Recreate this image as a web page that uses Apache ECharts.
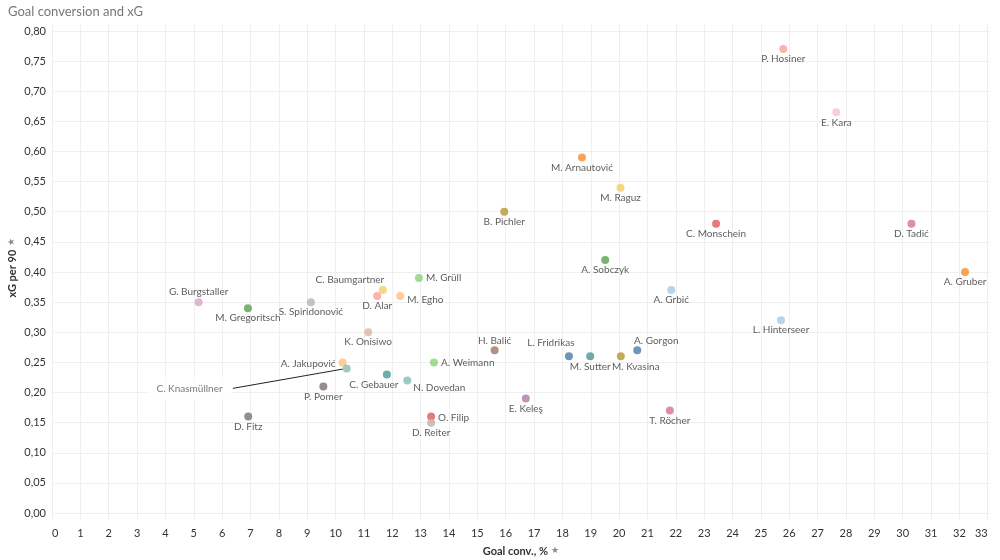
<!DOCTYPE html>
<html>
<head>
<meta charset="utf-8">
<script src="https://cdn.jsdelivr.net/npm/echarts@6/dist/echarts.min.js"></script>
<style>html,body{margin:0;padding:0;background:#fff}#c{width:1000px;height:560px}</style>
</head>
<body>
<div id="c"></div>
<script>
// ---- data ----
const players = ['P. Hosiner','E. Kara','C. Monschein','D. Tadić','A. Gruber','A. Grbić','L. Hinterseer','M. Arnautović','M. Raguz','B. Pichler','A. Sobczyk','M. Grüll','C. Baumgartner','D. Alar','M. Egho','S. Spiridonović','K. Onisiwo','G. Burgstaller','M. Gregoritsch','A. Jakupović','C. Knasmüllner','C. Gebauer','N. Dovedan','P. Pomer','D. Fitz','O. Filip','D. Reiter','A. Weimann','H. Balić','E. Keleş','L. Fridrikas','M. Sutter','M. Kvasina','A. Gorgon','T. Röcher'];
const goalConv = [25.79,27.66,23.42,30.31,32.20,21.84,25.71,18.69,20.05,15.95,19.51,12.94,11.67,11.47,12.28,9.13,11.15,5.17,6.91,10.25,10.39,11.81,12.53,9.57,6.92,13.37,13.37,13.47,15.61,16.71,18.23,18.98,20.06,20.64,21.79];
const xgPer90 = [0.77,0.665,0.48,0.48,0.40,0.37,0.32,0.59,0.54,0.50,0.42,0.39,0.37,0.36,0.36,0.35,0.30,0.35,0.34,0.25,0.24,0.23,0.22,0.21,0.16,0.16,0.15,0.25,0.27,0.19,0.26,0.26,0.26,0.27,0.17];
const xTicks = [0,1,2,3,4,5,6,7,8,9,10,11,12,13,14,15,16,17,18,19,20,21,22,23,24,25,26,27,28,29,30,31,32,33];
const yTicks = [0,0.05,0.1,0.15,0.2,0.25,0.3,0.35,0.4,0.45,0.5,0.55,0.6,0.65,0.7,0.75,0.8];

// ---- styles (kept apart from data) ----
const colorOf = {
 'P. Hosiner':'#FF9D9A','E. Kara':'#FABFD2','C. Monschein':'#E15759','D. Tadić':'#D37295','A. Gruber':'#F28E2B',
 'A. Grbić':'#A0CBE8','L. Hinterseer':'#A0CBE8','M. Arnautović':'#F28E2B','M. Raguz':'#F1CE63','B. Pichler':'#B6992D',
 'A. Sobczyk':'#59A14F','M. Grüll':'#8CD17D','C. Baumgartner':'#F1CE63','D. Alar':'#FF9D9A','M. Egho':'#FFBE7D',
 'S. Spiridonović':'#BAB0AC','K. Onisiwo':'#D7B5A6','G. Burgstaller':'#D4A6C8','M. Gregoritsch':'#59A14F',
 'A. Jakupović':'#FFBE7D','C. Knasmüllner':'#86BCB6','C. Gebauer':'#499894','N. Dovedan':'#86BCB6','P. Pomer':'#79706E',
 'D. Fitz':'#79706E','O. Filip':'#E15759','D. Reiter':'#BAB0AC','A. Weimann':'#8CD17D','H. Balić':'#9D7660',
 'E. Keleş':'#B07AA1','L. Fridrikas':'#4E79A7','M. Sutter':'#499894','M. Kvasina':'#B6992D','A. Gorgon':'#4E79A7','T. Röcher':'#D37295'
};
// label placement: [position, dx, dy]
const labelPlace = {
 'M. Grüll':['right',0,0],'M. Egho':['right',0,4],'A. Weimann':['right',0,0],'O. Filip':['right',0,1],
 'N. Dovedan':['right',-1,7],'A. Jakupović':['left',0,1],'C. Baumgartner':['top',-33,0],'G. Burgstaller':['top',0,0],
 'H. Balić':['top',0,0],'L. Fridrikas':['top',-18,-4],'A. Gorgon':['top',19,0],'C. Gebauer':['bottom',-13,0],
 'M. Kvasina':['bottom',15,0],'C. Knasmüllner':['left',-107,20]
};
const calloutName = 'C. Knasmüllner';   // label joined to its point by a leader line

const FONT = 'Lato';
const pts = players.map((n,i) => {
  const p = labelPlace[n] || ['bottom',0,0];
  const item = {
    name: n,
    value: [goalConv[i], xgPer90[i]],
    itemStyle: {color: colorOf[n]},
    label: {position: p[0], distance: (p[0]==='left'||p[0]==='right') ? 3 : 1}
  };
  if (n === calloutName) {
    item.label.color = '#555';
    item.label.backgroundColor = '#fff';
    item.label.padding = [6, 10];
    item.labelLine = {show: true, lineStyle: {color: '#222', width: 1}};
  }
  return item;
});

const chart = echarts.init(document.getElementById('c'), null, {renderer: 'canvas'});
chart.setOption({
  animation: false,
  backgroundColor: '#fff',
  title: {text: 'Goal conversion and xG', left: 3, top: 0,
    textStyle: {fontFamily: FONT, fontSize: 13, fontWeight: 'normal', color: '#777'}},
  grid: {left: 52, right: 10, top: 24, bottom: 40, containLabel: false, outerBoundsMode: 'none'},
  xAxis: {
    type: 'value', min: 0, max: 33.08,
    name: '{a|Goal conv., %} {p|★}', nameLocation: 'middle', nameGap: 25,
    nameTextStyle: {rich: {a: {fontFamily: FONT, fontSize: 11, fontWeight: 'bold', color: '#333'}, p: {fontSize: 9, color: '#888'}}},
    axisLine: {show: false}, axisTick: {show: false, customValues: xTicks},
    axisLabel: {customValues: xTicks, fontFamily: FONT, fontSize: 11, color: '#333', margin: 8,
      alignMinLabel: 'left', alignMaxLabel: 'right'},
    splitLine: {show: true, lineStyle: {color: '#efefef', width: 1}}
  },
  yAxis: {
    type: 'value', min: -0.0116, max: 0.8116,
    name: '{a|xG per 90} {p|★}', nameLocation: 'middle', nameGap: 34, nameRotate: 90, nameMoveOverlap: false,
    nameTextStyle: {padding: [0, 0, 0, 8], rich: {a: {fontFamily: FONT, fontSize: 11, fontWeight: 'bold', color: '#333'}, p: {fontSize: 9, color: '#888'}}},
    axisLine: {show: false}, axisTick: {show: false, customValues: yTicks},
    axisLabel: {customValues: yTicks, fontFamily: FONT, fontSize: 11, color: '#333', margin: 6,
      formatter: v => v.toFixed(2).replace('.', ',')},
    splitLine: {show: true, lineStyle: {color: '#efefef', width: 1}}
  },
  series: [{
    type: 'scatter',
    symbolSize: 8,
    data: pts,
    label: {show: true, formatter: p => p.name, fontFamily: FONT, fontSize: 10, color: '#333'},
    labelLine: {show: false},
    labelLayout: function (params) {
      const n = players[params.dataIndex];
      const p = labelPlace[n] || ['bottom',0,0];
      const out = {dx: p[1], dy: p[2]};
      if (n === calloutName) {
        const r = params.rect, lr = params.labelRect;
        const lx = lr.x + p[1], ly = lr.y + p[2];
        out.labelLinePoints = [
          [lx + lr.width - 4, ly + lr.height / 2],
          [r.x, r.y + r.height / 2],
          [r.x, r.y + r.height / 2]
        ];
      }
      return out;
    },
    emphasis: {disabled: true}
  }]
});
</script>
</body>
</html>
